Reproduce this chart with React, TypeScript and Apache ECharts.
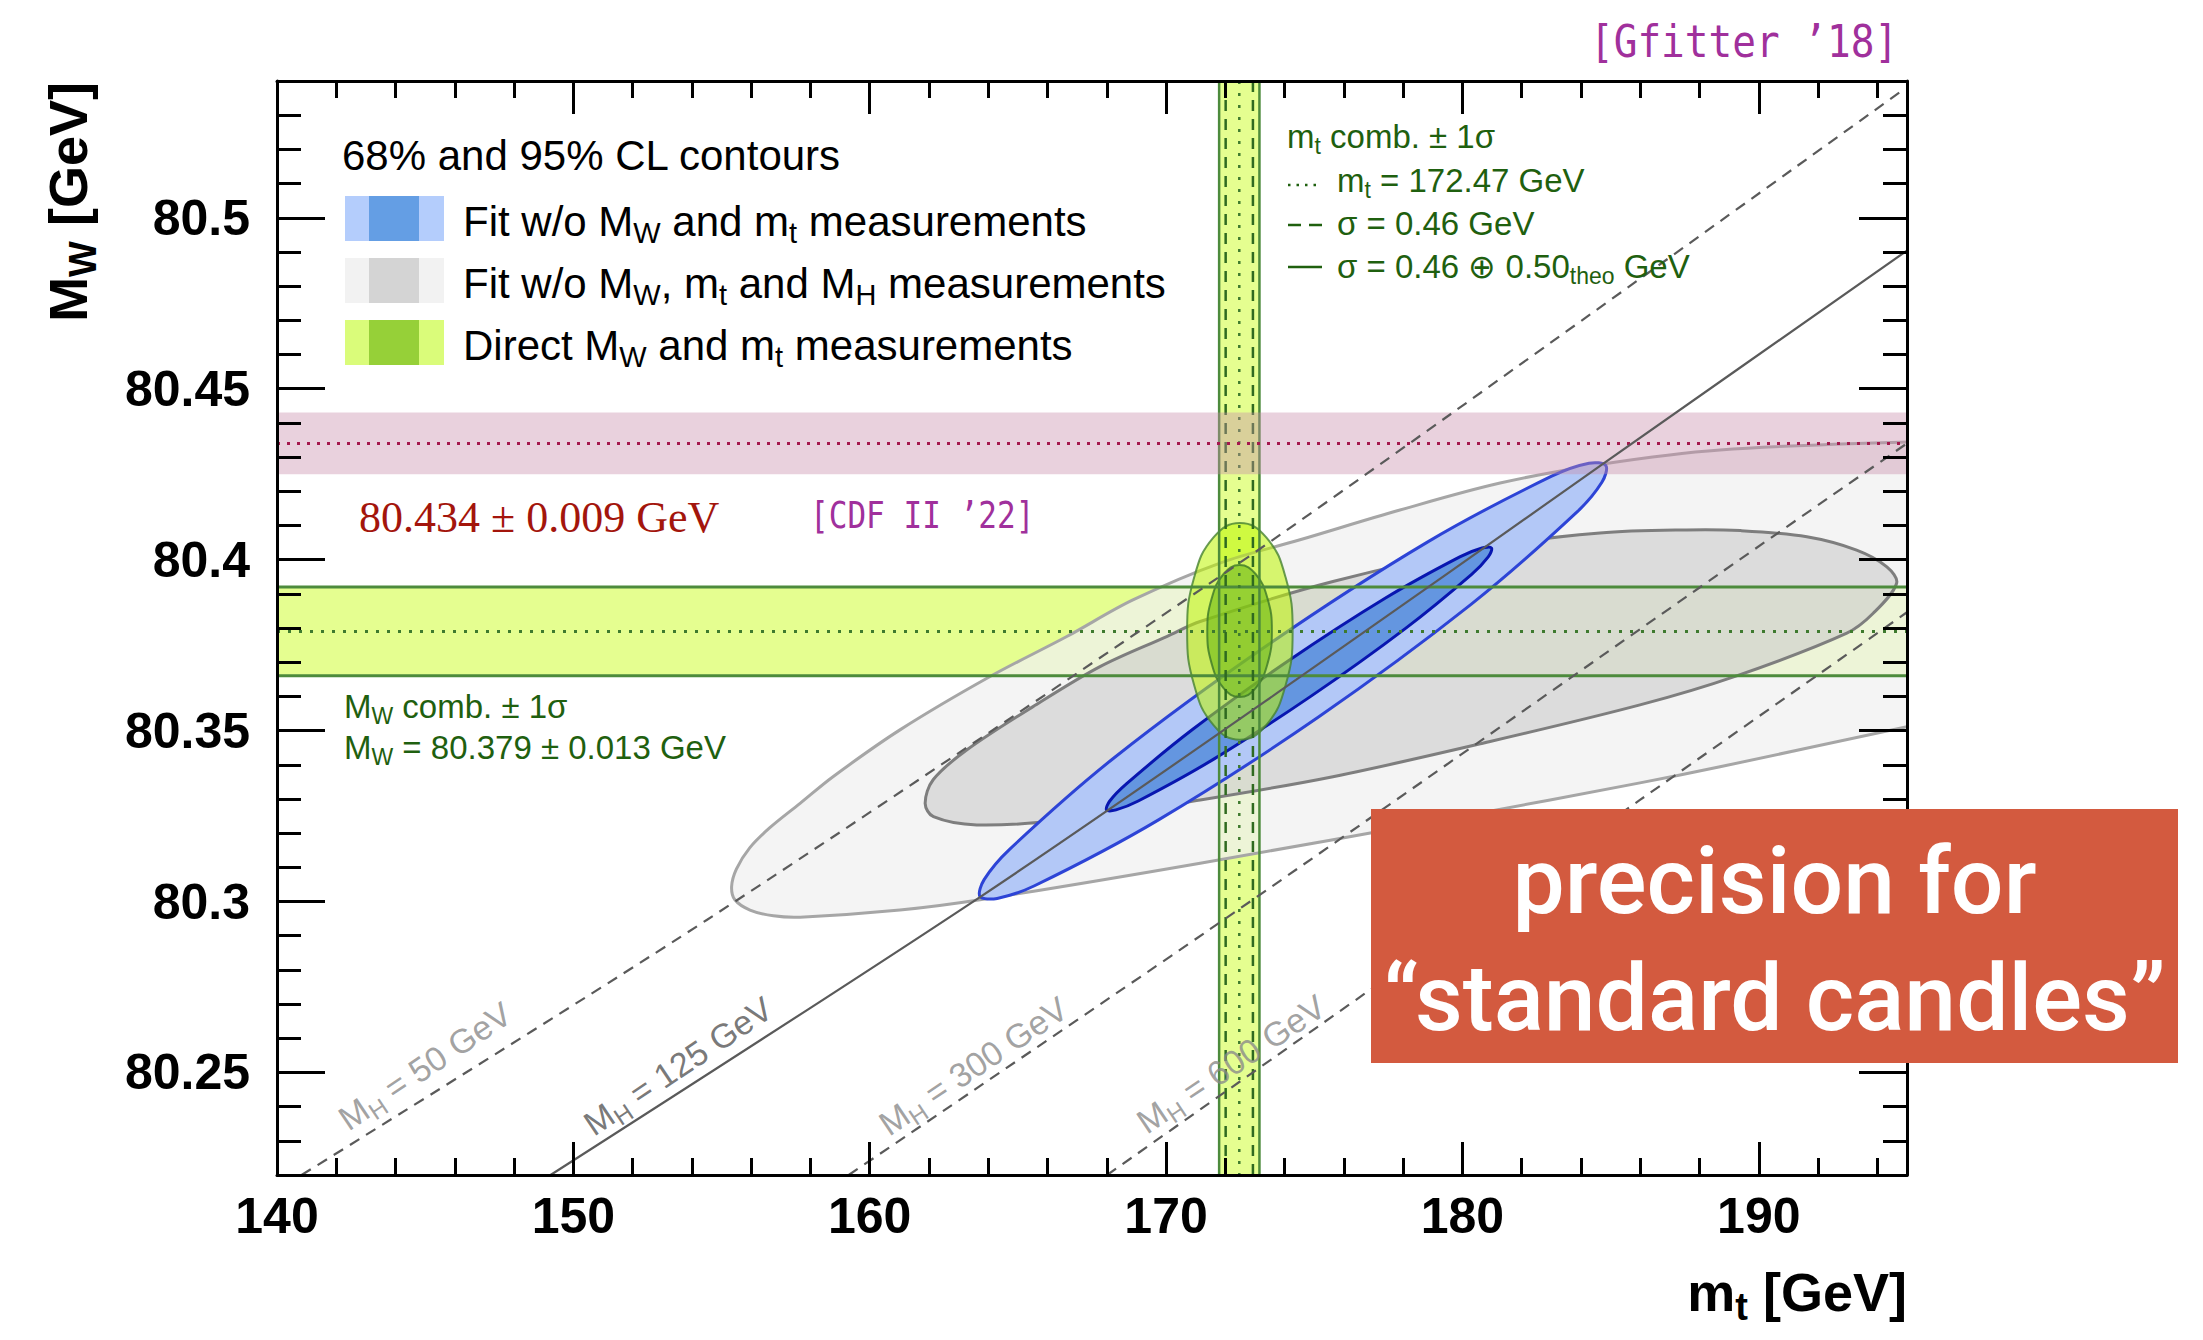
import React, { useEffect, useRef } from "react";
import * as echarts from "echarts";

// ---------------- data ----------------
const mtRange = [140, 195];
const mwRange = [80.22, 80.54];
const mtMajor = 10;
const mwMajor = 0.05;

// direct measurements: [central, sigma(exp), sigma(total)]
const mwDirect = [80.379, 0.013];
const mtDirect = [172.47, 0.46, 0.68];
const mwCdf = [80.434, 0.009];

// Fit w/o MW, mt and MH (95% / 68% CL) contours [mt, MW]
const grayOuter95 = [
  [155.34, 80.3044], [155.5, 80.3095], [155.95, 80.3157], [156.62, 80.3215], [157.65, 80.3287],
  [158.76, 80.3365], [161.02, 80.3502], [164.06, 80.3658], [166.65, 80.3775], [168.88, 80.3882],
  [171.82, 80.399], [174.52, 80.4058], [177.89, 80.4145], [181.27, 80.4224], [184.74, 80.428],
  [188.69, 80.4321], [195.0, 80.4344], [198.5, 80.4345], [201.5, 80.43], [204.0, 80.418],
  [205.0, 80.4], [204.0, 80.378], [201.5, 80.364], [198.5, 80.357], [195.0, 80.3511],
  [188.69, 80.3394], [185.99, 80.3347], [179.92, 80.3248], [171.15, 80.3112], [163.72, 80.3005],
  [161.02, 80.2975], [157.65, 80.2954], [156.75, 80.2958], [155.96, 80.2975], [155.45, 80.3005],
];
const grayInner68 = [
  [161.87, 80.3287], [162.14, 80.3356], [163.27, 80.3443], [165.51, 80.357], [167.77, 80.3687],
  [170.02, 80.3775], [171.15, 80.3819], [175.63, 80.3936], [180.93, 80.4038], [184.64, 80.4078],
  [187.57, 80.4087], [189.37, 80.4085], [191.62, 80.4067], [193.3, 80.4028], [194.32, 80.3979],
  [194.65, 80.3931], [193.86, 80.3843], [192.97, 80.3785], [189.25, 80.366], [185.99, 80.3575],
  [180.69, 80.3463], [175.63, 80.3365], [171.15, 80.3297], [166.65, 80.3239], [163.61, 80.3224],
  [162.15, 80.3248],
];
// Fit w/o MW and mt measurements
const blueOuter95 = [
  [184.84, 80.4275], [184.71, 80.4227], [183.85, 80.4138], [180.29, 80.3869], [175.13, 80.3539],
  [169.73, 80.3238], [165.56, 80.3046], [164.3, 80.3009], [163.72, 80.3015], [163.86, 80.3064],
  [164.71, 80.3152], [168.27, 80.3422], [173.44, 80.3751], [178.83, 80.4052], [183.01, 80.4244],
  [184.27, 80.4282],
];
const blueInner68 = [
  [180.98, 80.4034], [180.87, 80.4008], [180.31, 80.3957], [178.08, 80.3799], [174.88, 80.36],
  [171.58, 80.3415], [169.06, 80.3294], [168.31, 80.3268], [167.99, 80.3268], [168.1, 80.3294],
  [168.66, 80.3344], [170.89, 80.3503], [174.09, 80.3702], [177.39, 80.3887], [179.91, 80.4008],
  [180.66, 80.4034],
];
// Direct MW and mt measurements
const greenOuter95 = [
  [174.27, 80.379], [174.03, 80.3949], [173.38, 80.4065], [172.49, 80.4107], [171.6, 80.4065],
  [170.95, 80.3949], [170.71, 80.379], [170.95, 80.3632], [171.6, 80.3516], [172.49, 80.3473],
  [173.38, 80.3516], [174.03, 80.3632],
];
const greenInner68 = [
  [173.57, 80.3791], [173.42, 80.3887], [173.02, 80.3958], [172.48, 80.3984], [171.94, 80.3958],
  [171.54, 80.3887], [171.39, 80.3791], [171.54, 80.3695], [171.94, 80.3624], [172.48, 80.3598],
  [173.02, 80.3624], [173.42, 80.3695],
];
// SM lines for fixed MH
const mh50 = [[140.83, 80.22], [154.5, 80.2946], [171.48, 80.3931], [179.64, 80.4428], [194.95, 80.5379]];
const mh125 = [[149.23, 80.22], [163.72, 80.3013], [174.38, 80.3648], [184.74, 80.428], [195.0, 80.4904]];
const mh300 = [[159.29, 80.22], [172.27, 80.2966], [188.69, 80.396], [195.0, 80.434]];
const mh600 = [[168.01, 80.22], [185.99, 80.3297], [195.0, 80.3846]];
const mhValues = ["50", "125", "300", "600"];
const mhLabelPos = [[144.99, 80.2519], [153.53, 80.2519], [163.49, 80.2519], [172.19, 80.2525]];

// ---------------- styles ----------------
const SANS = "'Liberation Sans', Arial, Helvetica, sans-serif";
const SERIF = "'Liberation Serif', 'Times New Roman', serif";
const MONO = "'DejaVu Sans Mono', 'Liberation Mono', monospace";
const ROBOTO = "Roboto, 'Noto Sans', sans-serif";
const GREEN_TXT = "#1f600f";
const PURPLE = "#a0309c";
const BAND_FILL = "#e5fe90";
const BAND_LINE = "#4d8b3c";

function rich(F: number, family: string, color: string, weight: string = "normal") {
  const S = Math.round(F * 0.7);
  const H = Math.round(F * 1.25);
  const h = Math.max(2, H - 2 * F * 0.36 + 0.693 * (S - F));
  const base = { fontFamily: family, fontWeight: weight, fill: color, color };
  return {
    m: { ...base, fontSize: F, lineHeight: H },
    s: { ...base, fontSize: S, lineHeight: h, verticalAlign: "bottom" },
  };
}

function txt(x: number, y: number, text: string, F: number, family: string, color: string, o: any = {}) {
  const align = o.align || "left";
  return {
    type: "text",
    x,
    y,
    z: o.z || 20,
    silent: true,
    rotation: o.rotation || 0,
    scaleX: o.scaleX || 1,
    style: {
      text,
      rich: rich(F, family, color, o.weight || "normal"),
      fill: color,
      fontSize: F,
      fontFamily: family,
      fontWeight: o.weight || "normal",
      align,
      textAlign: align,
      verticalAlign: "middle",
      textVerticalAlign: "middle",
    },
  };
}

function rect(x: number, y: number, w: number, h: number, fill: string, z = 20) {
  return { type: "rect", z, silent: true, shape: { x, y, width: w, height: h }, style: { fill } };
}
function gline(x1: number, y1: number, x2: number, y2: number, stroke: string, lineDash: any = null, lw = 2.5) {
  return { type: "line", z: 20, silent: true, shape: { x1, y1, x2, y2 }, style: { stroke, lineWidth: lw, lineDash } };
}

const tickStyle = { color: "#000", width: 3 };

function xAxisDef(pos: string, labels: boolean) {
  return {
    type: "value",
    position: pos,
    min: mtRange[0],
    max: mtRange[1],
    minInterval: mtMajor,
    maxInterval: mtMajor,
    splitNumber: 5,
    z: 10,
    silent: true,
    axisLine: { show: true, onZero: false, lineStyle: { color: "#000", width: 3 } },
    axisTick: { show: true, inside: true, length: 33, lineStyle: tickStyle },
    minorTick: { show: true, splitNumber: 5, length: 17, lineStyle: tickStyle },
    splitLine: { show: false },
    minorSplitLine: { show: false },
    axisLabel: {
      show: labels,
      margin: 16,
      color: "#000",
      fontSize: 50,
      fontWeight: "bold",
      fontFamily: SANS,
      showMinLabel: true,
      showMaxLabel: false,
      formatter: (v: number) => String(Math.round(v)),
    },
  };
}
function yAxisDef(pos: string, labels: boolean) {
  return {
    type: "value",
    position: pos,
    min: mwRange[0],
    max: mwRange[1],
    minInterval: mwMajor,
    maxInterval: mwMajor,
    splitNumber: 5,
    z: 10,
    silent: true,
    axisLine: { show: true, onZero: false, lineStyle: { color: "#000", width: 3 } },
    axisTick: { show: true, inside: true, length: 48, lineStyle: tickStyle },
    minorTick: { show: true, splitNumber: 5, length: 24, lineStyle: tickStyle },
    splitLine: { show: false },
    minorSplitLine: { show: false },
    axisLabel: {
      show: labels,
      margin: 27,
      color: "#000",
      fontSize: 50,
      fontWeight: "bold",
      fontFamily: SANS,
      showMinLabel: false,
      showMaxLabel: false,
      formatter: (v: number) => String(+v.toFixed(2)),
    },
  };
}

function clipOf(params: any) {
  const cs = params.coordSys;
  return { type: "rect", shape: { x: cs.x, y: cs.y, width: cs.width, height: cs.height } };
}

function contour(points: number[][], fill: string, stroke: string, lw: number, smooth = 0.33) {
  return {
    type: "custom",
    coordinateSystem: "cartesian2d",
    silent: true,
    clip: true,
    data: points,
    encode: { x: 0, y: 1 },
    renderItem: (params: any, api: any) => {
      if (params.dataIndex !== 0) return null;
      const pts = points.map((p) => api.coord(p));
      return {
        type: "polygon",
        shape: { points: pts, smooth },
        style: { fill, stroke, lineWidth: lw },
        clipPath: clipOf(params),
      };
    },
  };
}

function mhLine(data: number[][], dashed: boolean) {
  return {
    type: "line",
    data,
    symbol: "none",
    showSymbol: false,
    smooth: 0.3,
    silent: true,
    clip: true,
    lineStyle: { color: "#5a5a5a", width: 2.2, type: dashed ? [11, 8] : "solid" },
  };
}

const bandFillSeries = {
  type: "custom",
  silent: true,
  clip: true,
  data: [[mtRange[0], mwRange[0]]],
  renderItem: (params: any, api: any) => {
    const cs = params.coordSys;
    const yA = api.coord([mtRange[0], mwDirect[0] + mwDirect[1]])[1];
    const yB = api.coord([mtRange[0], mwDirect[0] - mwDirect[1]])[1];
    const xA = api.coord([mtDirect[0] - mtDirect[2], mwRange[0]])[0];
    const xB = api.coord([mtDirect[0] + mtDirect[2], mwRange[0]])[0];
    return {
      type: "group",
      children: [
        { type: "rect", shape: { x: cs.x, y: yA, width: cs.width, height: yB - yA }, style: { fill: BAND_FILL } },
        { type: "rect", shape: { x: xA, y: cs.y, width: xB - xA, height: cs.height }, style: { fill: BAND_FILL } },
      ],
    };
  },
};

const bandLineSeries = {
  type: "custom",
  silent: true,
  clip: true,
  data: [[mtRange[0], mwRange[0]]],
  renderItem: (params: any, api: any) => {
    const cs = params.coordSys;
    const hy = (v: number) => api.coord([mtRange[0], v])[1];
    const vx = (v: number) => api.coord([v, mwRange[0]])[0];
    const H = (y: number, stroke: string, dash: any, lw = 2.5) => ({
      type: "line",
      shape: { x1: cs.x, y1: y, x2: cs.x + cs.width, y2: y },
      style: { stroke, lineWidth: lw, lineDash: dash },
    });
    const V = (x: number, stroke: string, dash: any, lw = 2.5) => ({
      type: "line",
      shape: { x1: x, y1: cs.y, x2: x, y2: cs.y + cs.height },
      style: { stroke, lineWidth: lw, lineDash: dash },
    });
    return {
      type: "group",
      clipPath: clipOf(params),
      children: [
        H(hy(mwDirect[0] + mwDirect[1]), BAND_LINE, null, 3),
        H(hy(mwDirect[0] - mwDirect[1]), BAND_LINE, null, 3),
        H(hy(mwDirect[0]), "#3e7a2e", [3, 8], 3),
        V(vx(mtDirect[0] - mtDirect[2]), BAND_LINE, null, 2.5),
        V(vx(mtDirect[0] + mtDirect[2]), BAND_LINE, null, 2.5),
        V(vx(mtDirect[0] - mtDirect[1]), "#2f6a20", [11, 8], 2.5),
        V(vx(mtDirect[0] + mtDirect[1]), "#2f6a20", [11, 8], 2.5),
        V(vx(mtDirect[0]), "#3e7a2e", [3, 9], 2.5),
      ],
    };
  },
};

const cdfSeries = {
  type: "custom",
  silent: true,
  clip: true,
  data: [[mtRange[0], mwRange[0]]],
  renderItem: (params: any, api: any) => {
    const cs = params.coordSys;
    const yA = api.coord([mtRange[0], mwCdf[0] + mwCdf[1]])[1];
    const yB = api.coord([mtRange[0], mwCdf[0] - mwCdf[1]])[1];
    const yC = api.coord([mtRange[0], mwCdf[0]])[1];
    return {
      type: "group",
      children: [
        { type: "rect", shape: { x: cs.x, y: yA, width: cs.width, height: yB - yA }, style: { fill: "rgba(200,140,170,0.4)" } },
        {
          type: "line",
          shape: { x1: cs.x, y1: yC, x2: cs.x + cs.width, y2: yC },
          style: { stroke: "#a5184e", lineWidth: 3, lineDash: [3, 7] },
        },
      ],
    };
  },
};

const mhLabelColors = ["#8a8a8a", "#555555", "#8a8a8a", "#8a8a8a"];
const mhLabelSeries = {
  type: "scatter",
  silent: true,
  symbolSize: 0,
  data: mhLabelPos.map((p, i) => ({
    value: p,
    label: {
      show: true,
      position: "inside",
      rotate: 34,
      formatter: `{m|M}{s|H}{m| = ${mhValues[i]} GeV}`,
      rich: rich(34, SANS, mhLabelColors[i]),
    },
  })),
  label: { show: true },
};

const legendRows = [
  { y: 196, light: "#b4cdfc", dark: "#649ee4", text: "{m|Fit w/o M}{s|W}{m| and m}{s|t}{m| measurements}" },
  { y: 258, light: "#f2f2f2", dark: "#d4d4d4", text: "{m|Fit w/o M}{s|W}{m|, m}{s|t}{m| and M}{s|H}{m| measurements}" },
  { y: 320, light: "#dafc7a", dark: "#96d038", text: "{m|Direct M}{s|W}{m| and m}{s|t}{m| measurements}" },
];

const graphicElements: any[] = [
  txt(1590, 41.5, "{m|[Gfitter ’18]}", 45, MONO, PURPLE, { scaleX: 0.875 }),
  txt(342, 155.5, "{m|68% and 95% CL contours}", 42, SANS, "#000"),
  ...legendRows.flatMap((r) => [
    rect(345, r.y, 99, 45, r.light),
    rect(369, r.y, 50, 45, r.dark),
    txt(463, r.y + 25, r.text, 42, SANS, "#000"),
  ]),
  txt(359, 517, "{m|80.434 ± 0.009 GeV}", 44, SERIF, "#a3150c"),
  txt(810, 515, "{m|[CDF II ’22]}", 37, MONO, PURPLE, { scaleX: 0.84 }),
  txt(344, 706.6, "{m|M}{s|W}{m| comb. ± 1σ}", 33, SANS, GREEN_TXT),
  txt(344, 747.6, "{m|M}{s|W}{m| = 80.379 ± 0.013 GeV}", 33, SANS, GREEN_TXT),
  txt(1287, 136.6, "{m|m}{s|t}{m| comb. ± 1σ}", 33, SANS, GREEN_TXT),
  gline(1288, 185, 1321, 185, GREEN_TXT, [2.5, 6], 2.5),
  txt(1337, 180.6, "{m|m}{s|t}{m| = 172.47 GeV}", 33, SANS, GREEN_TXT),
  gline(1288, 225, 1322, 225, GREEN_TXT, [13, 8], 2.5),
  txt(1337, 223.6, "{m|σ = 0.46 GeV}", 33, SANS, GREEN_TXT),
  gline(1288, 267, 1322, 267, GREEN_TXT, null, 2.5),
  txt(1337, 266.6, "{m|σ = 0.46 ⊕ 0.50}{s|theo}{m| GeV}", 33, SANS, GREEN_TXT),
  txt(1907, 1292, "{m|m}{s|t}{m| [GeV]}", 54, SANS, "#000", { weight: "bold", align: "right" }),
  txt(68, 82, "{m|M}{s|W}{m| [GeV]}", 54, SANS, "#000", { weight: "bold", align: "right", rotation: Math.PI / 2 }),
  rect(1371, 809, 807, 254, "#d35a3f", 30),
  {
    type: "text",
    x: 1774.5,
    y: 881,
    z: 31,
    silent: true,
    style: {
      text: "precision for",
      fill: "#ffffff",
      fontSize: 93,
      fontFamily: ROBOTO,
      fontWeight: 500,
      align: "center",
      textAlign: "center",
      verticalAlign: "middle",
      textVerticalAlign: "middle",
    },
  },
  {
    type: "text",
    x: 1774.5,
    y: 998,
    z: 31,
    silent: true,
    style: {
      text: "“standard candles”",
      fill: "#ffffff",
      fontSize: 93,
      fontFamily: ROBOTO,
      fontWeight: 500,
      align: "center",
      textAlign: "center",
      verticalAlign: "middle",
      textVerticalAlign: "middle",
    },
  },
];

const option: any = {
  animation: false,
  backgroundColor: "#ffffff",
  grid: { left: 277, top: 81, width: 1630, height: 1094, containLabel: false, outerBoundsMode: "none", show: false },
  xAxis: [xAxisDef("bottom", true), xAxisDef("top", false)],
  yAxis: [yAxisDef("left", true), yAxisDef("right", false)],
  series: [
    bandFillSeries,
    contour(grayOuter95, "rgba(240,240,240,0.74)", "#a6a6a6", 3),
    contour(grayInner68, "rgba(204,204,204,0.6)", "#7e7e7e", 3),
    contour(blueOuter95, "#b3c8f7", "#2d44d6", 3),
    contour(blueInner68, "#6496e0", "#0816b0", 3),
    contour(greenOuter95, "rgba(189,245,0,0.55)", "rgba(70,130,50,0.8)", 2, 0.45),
    contour(greenInner68, "rgba(110,185,20,0.6)", "rgba(60,120,40,0.8)", 2, 0.45),
    mhLine(mh50, true),
    mhLine(mh125, false),
    mhLine(mh300, true),
    mhLine(mh600, true),
    bandLineSeries,
    cdfSeries,
    mhLabelSeries,
  ],
  graphic: { elements: graphicElements },
};

export default function App() {
  const ref = useRef<HTMLDivElement>(null);
  useEffect(() => {
    const chart = echarts.init(ref.current!, null, { renderer: "svg", width: 2203, height: 1340 });
    chart.setOption(option);
    return () => chart.dispose();
  }, []);
  return (
    <div
      ref={ref}
      style={{ position: "fixed", left: 0, top: 0, width: 2203, height: 1340, background: "#ffffff" }}
    />
  );
}
